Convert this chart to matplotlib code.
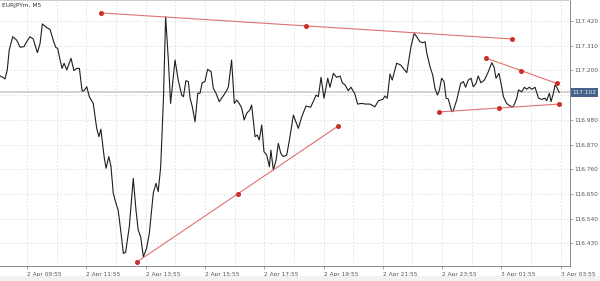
import matplotlib
matplotlib.use("Agg")
import matplotlib.pyplot as plt
from matplotlib.patches import Rectangle

# bar offset (5 min bars, 0 = 2 Apr 09:55) and close price
bar_pos = [-10.9, -10.2, -8.9, -8.0, -7.2, -5.8, -4.2, -2.8, -1.2, -0.4, 1.2, 2.5, 4.2, 5.3, 6.2, 8.0, 9.3,
           10.6, 11.6, 12.4, 13.4, 14.2, 15.0, 16.1, 17.8, 19.0, 20.1, 21.2, 22.3, 23.1, 24.2, 25.2, 26.8,
           28.2, 29.1, 29.9, 31.2, 32.0, 33.1, 34.0, 34.9, 36.0, 36.9, 37.9, 39.0, 39.9, 41.4, 43.0, 44.1,
           45.0, 46.0, 47.1, 48.4, 49.5, 51.1, 52.2, 53.1, 54.1, 55.2, 56.1, 57.2, 58.1, 59.9, 61.2, 62.6,
           63.3, 64.3, 65.3, 66.0, 66.9, 68.0, 69.1, 70.0, 70.9, 72.0, 73.1, 74.5, 75.4, 76.5, 77.8, 79.2,
           80.8, 81.5, 82.8, 83.9, 84.9, 85.9, 86.9, 87.9, 88.9, 90.2, 90.9, 92.3, 93.2, 94.0, 95.0, 95.9,
           97.0, 98.1, 98.7, 99.7, 100.8, 101.7, 102.7, 103.7, 105.1, 106.2, 107.8, 109.8, 111.2, 112.9,
           114.8, 117.0, 117.9, 119.0, 120.2, 121.7, 122.6, 124.0, 125.3, 126.7, 127.6, 128.7, 130.0, 131.1,
           132.7, 133.8, 135.4, 137.2, 138.8, 140.8, 142.2, 144.0, 144.9, 145.8, 146.9, 147.8, 149.6, 151.2,
           152.6, 153.7, 155.4, 156.7, 157.7, 159.0, 160.1, 161.1, 161.8, 163.1, 164.2, 165.1, 166.1, 166.9,
           167.8, 168.8, 169.6, 170.5, 171.9, 172.5, 173.9, 175.5, 176.6, 177.5, 178.6, 179.7, 180.6, 181.7,
           182.6, 183.7, 185.1, 186.7, 188.1, 189.0, 189.8, 191.0, 192.1, 192.8, 194.1, 195.5, 196.8, 198.2,
           198.9, 200.2, 201.3, 202.2, 203.3, 204.3, 205.6, 207.0, 208.3, 209.6, 210.3, 211.4, 212.1, 213.0,
           213.7, 214.4, 215.0, 215.4]
close = [117.175, 117.172, 117.162, 117.202, 117.291, 117.350, 117.335, 117.303, 117.306, 117.323, 117.350,
         117.340, 117.279, 117.321, 117.407, 117.390, 117.383, 117.335, 117.303, 117.298, 117.246, 117.209,
         117.232, 117.202, 117.254, 117.199, 117.209, 117.209, 117.108, 117.110, 117.127, 117.083, 117.053,
         116.942, 116.905, 116.938, 116.816, 116.764, 116.816, 116.771, 116.653, 116.608, 116.578, 116.489,
         116.385, 116.390, 116.504, 116.719, 116.578, 116.489, 116.459, 116.370, 116.408, 116.474, 116.653,
         116.697, 116.660, 116.771, 117.068, 117.439, 117.246, 117.053, 117.246, 117.157, 117.090, 117.083,
         117.154, 117.150, 117.076, 117.038, 116.971, 117.098, 117.098, 117.145, 117.150, 117.205, 117.194,
         117.120, 117.098, 117.061, 117.083, 117.110, 117.127, 117.246, 117.053, 117.068, 117.053, 117.031,
         116.979, 117.009, 117.024, 117.046, 116.905, 116.912, 116.890, 116.957, 116.838, 116.823, 116.771,
         116.845, 116.756, 116.801, 116.875, 116.831, 116.816, 116.823, 116.890, 117.001, 116.942, 116.994,
         117.041, 117.036, 117.090, 117.083, 117.169, 117.076, 117.165, 117.125, 117.187, 117.169, 117.175,
         117.145, 117.135, 117.110, 117.125, 117.095, 117.050, 117.053, 117.050, 117.050, 117.038, 117.065,
         117.071, 117.086, 117.076, 117.184, 117.157, 117.232, 117.224, 117.205, 117.190, 117.306, 117.365,
         117.350, 117.328, 117.323, 117.328, 117.276, 117.216, 117.179, 117.120, 117.090, 117.113, 117.165,
         117.150, 117.076, 117.073, 117.016, 117.020, 117.068, 117.142, 117.150, 117.125, 117.157, 117.165,
         117.127, 117.142, 117.175, 117.145, 117.157, 117.194, 117.234, 117.216, 117.165, 117.187, 117.127,
         117.083, 117.053, 117.041, 117.038, 117.076, 117.113, 117.105, 117.125, 117.116, 117.125, 117.116,
         117.125, 117.076, 117.071, 117.076, 117.065, 117.098, 117.061, 117.098, 117.135, 117.125, 117.110,
         117.102]

# trend lines: (bar1, price1, bar2, price2)
trend_lines = [
    (29.9, 117.456, 196.3, 117.340),
    (44.5, 116.347, 125.9, 116.952),
    (185.8, 117.255, 214.4, 117.142),
    (166.7, 117.015, 215.3, 117.050),
]

last_price = 117.102
price_ticks = [116.430, 116.540, 116.650, 116.760, 116.870, 116.980, 117.090, 117.200, 117.310, 117.420]
time_ticks = [0, 24, 48, 72, 96, 120, 144, 168, 192, 216]
time_labels = ["2 Apr 09:55", "2 Apr 11:55", "2 Apr 13:55", "2 Apr 15:55", "2 Apr 17:55",
               "2 Apr 19:55", "2 Apr 21:55", "2 Apr 23:55", "3 Apr 01:55", "3 Apr 03:55"]

fs = 4.2

fig = plt.figure(figsize=(6, 2.81), dpi=100)
fig.patches.append(Rectangle((0, 0), 1, 0.018, transform=fig.transFigure, fc="#f2f2f2", ec="none"))
ax = fig.add_axes([0.0, 0.0534, 0.95, 0.9466])

ax.set_xlim(-10.93, 219.75)
ax.set_ylim(116.329, 117.5135)

# grid: hourly verticals, every price tick horizontal
for b in range(-12, 230, 12):
    ax.axvline(b, color="#dddddd", lw=0.6, ls=(0, (2, 2)), zorder=0)
for p in price_ticks:
    ax.axhline(p, color="#dddddd", lw=0.6, ls=(0, (2, 2)), zorder=0)

ax.axhline(last_price, color="#cfcfcf", lw=1.3, zorder=1)

ax.plot(bar_pos, close, color="#1e1e1e", lw=0.8, zorder=3)

for b1, p1, b2, p2 in trend_lines:
    ax.plot([b1, b2], [p1, p2], color="#e07070", lw=0.8, zorder=4)
    ax.plot([b1, (b1 + b2) / 2, b2], [p1, (p1 + p2) / 2, p2], "o", color="#c8312b",
            ms=2.6, zorder=5)

ax.text(0.004, 0.99, "EURJPYm, M5", transform=ax.transAxes, fontsize=fs, color="#333333",
        ha="left", va="top")

# axes styling
ax.spines["left"].set_visible(False)
for s in ["right", "bottom"]:
    ax.spines[s].set_color("#888888")
    ax.spines[s].set_linewidth(0.7)
ax.spines["top"].set_color("#cccccc")
ax.spines["top"].set_linewidth(0.7)

ax.yaxis.tick_right()
ax.set_yticks(price_ticks)
ax.set_yticklabels(["" if p == 117.090 else f"{p:.3f}" for p in price_ticks])
ax.tick_params(axis="y", length=2, width=0.5, color="#888888", labelsize=fs, labelcolor="#555555", pad=1.5)

ax.set_xticks(time_ticks)
ax.set_xticklabels(time_labels)
ax.tick_params(axis="x", length=2, width=0.5, color="#888888", labelsize=fs, labelcolor="#555555", pad=2)
for lab in ax.get_xticklabels():
    lab.set_horizontalalignment("left")

# current price tag
ax.text(1.004, last_price, f"{last_price:.3f}", transform=ax.get_yaxis_transform(), fontsize=fs,
        color="#e8eef5", ha="left", va="center",
        bbox=dict(boxstyle="square,pad=0.3", fc="#44628a", ec="none"), zorder=6, clip_on=False)

fig.savefig("out.png", dpi=100)
